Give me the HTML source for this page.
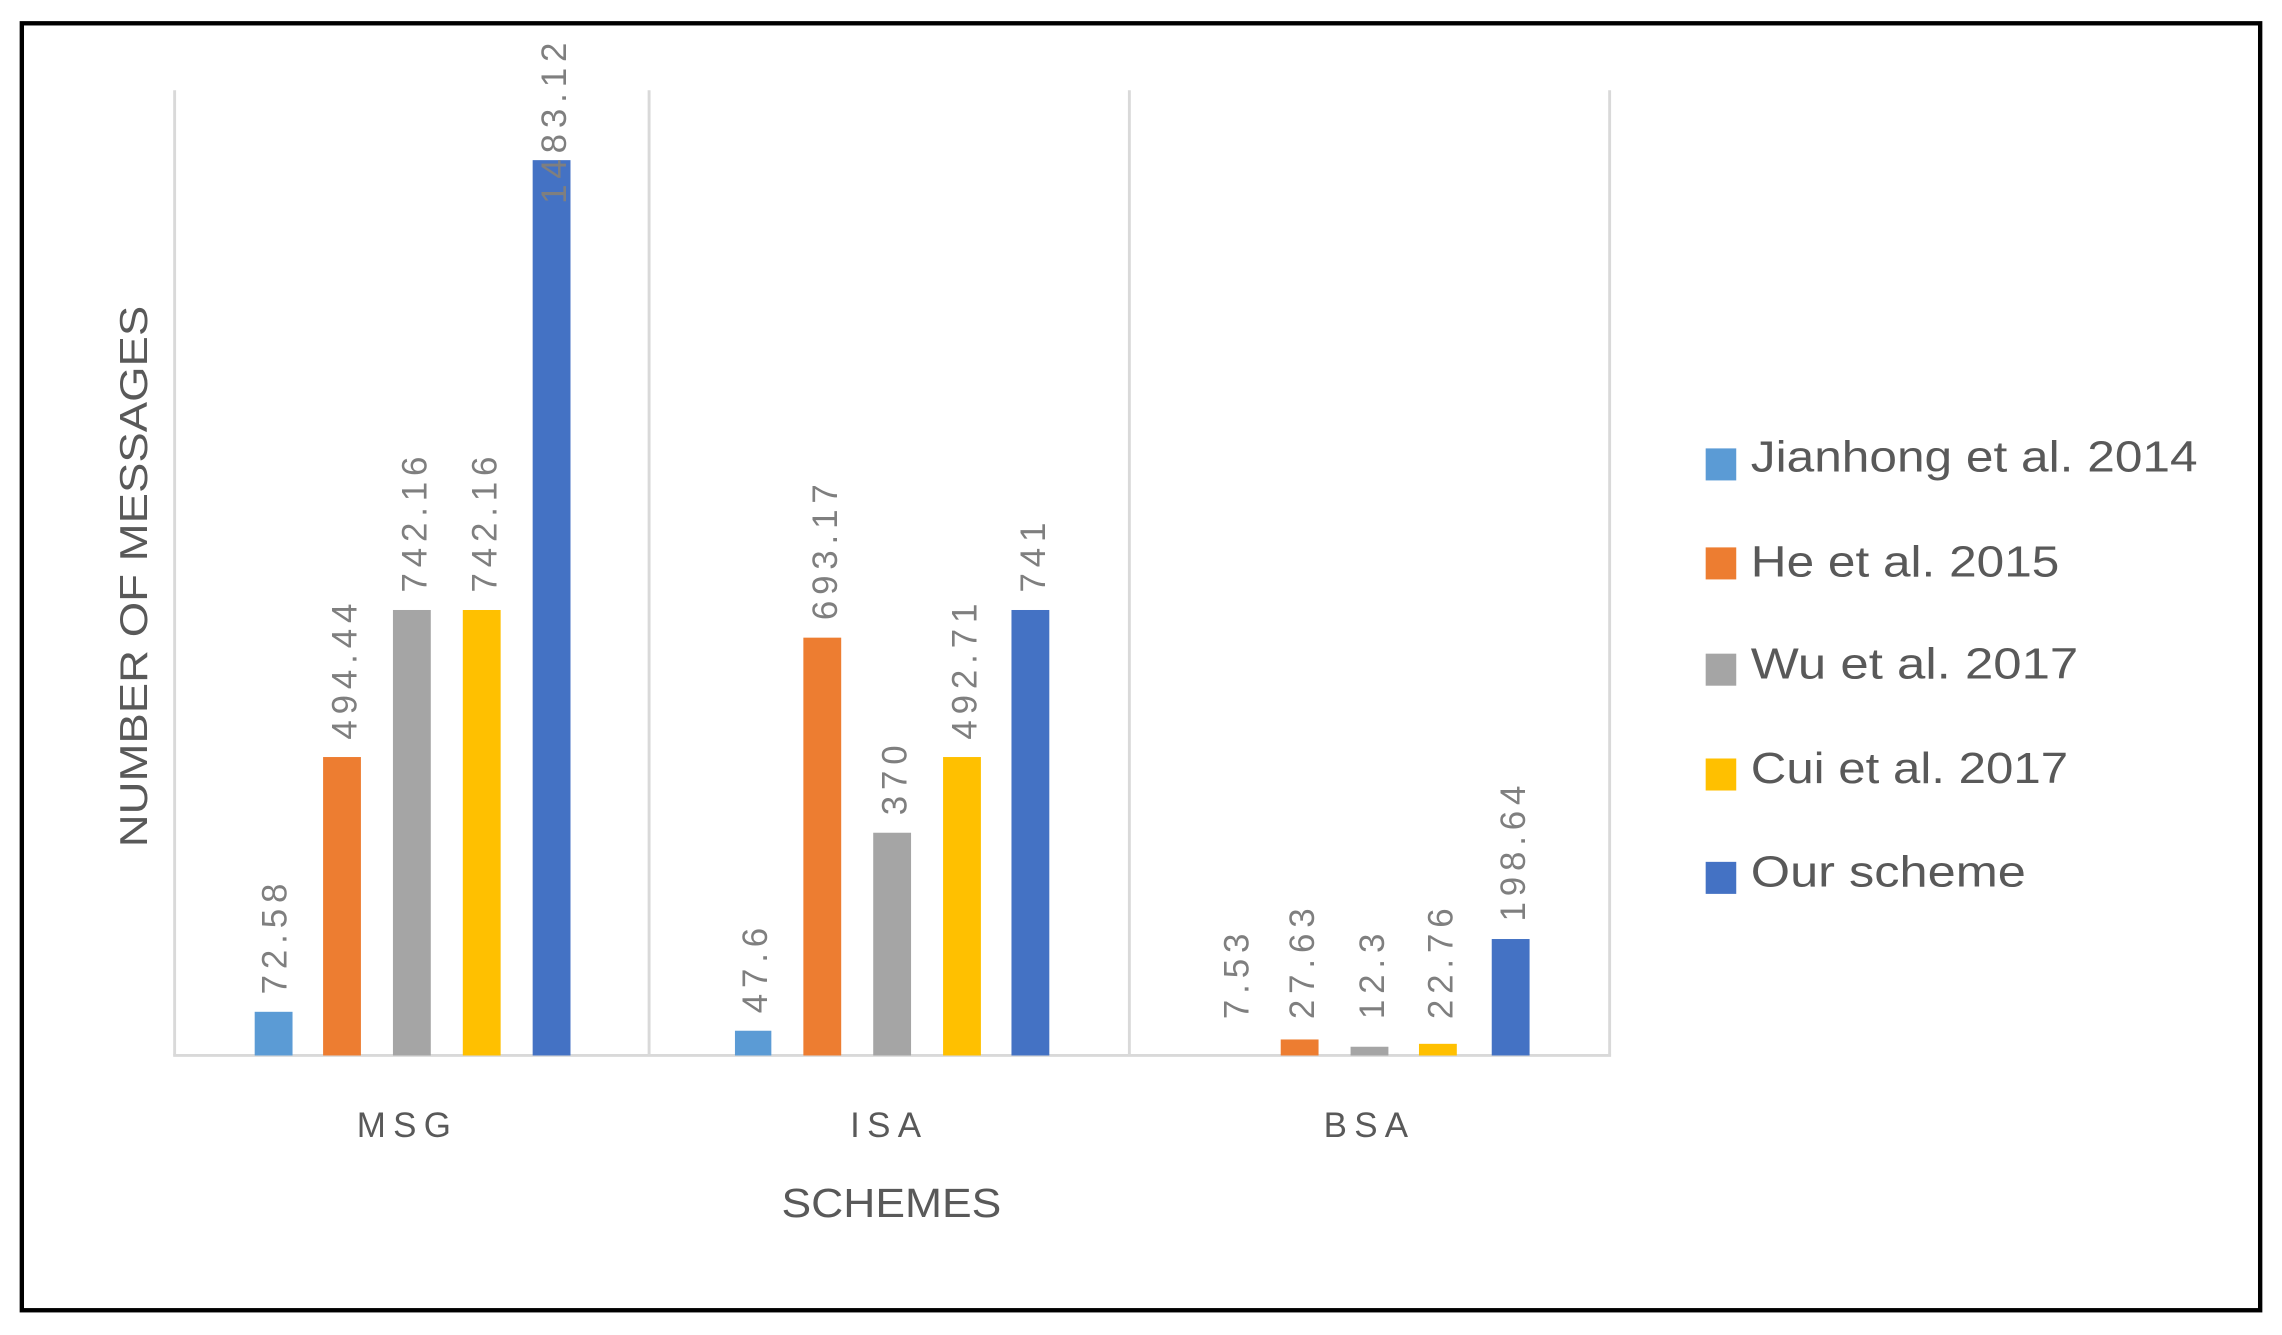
<!DOCTYPE html>
<html><head><style>html,body{margin:0;padding:0;background:#fff}svg{display:block}</style></head>
<body>
<svg width="2282" height="1335" viewBox="0 0 1568 917" preserveAspectRatio="none" xmlns="http://www.w3.org/2000/svg" font-family="Liberation Sans, sans-serif">
<rect x="0" y="0" width="1568" height="917" fill="#fff"/>
<rect x="15" y="16" width="1538" height="884" fill="none" stroke="#000" stroke-width="3"/>
<g stroke="#d9d9d9" stroke-width="2">
<line x1="120" y1="62" x2="120" y2="725"/>
<line x1="446" y1="62" x2="446" y2="725"/>
<line x1="776" y1="62" x2="776" y2="725"/>
<line x1="1106" y1="62" x2="1106" y2="725"/>
<line x1="119" y1="725" x2="1107" y2="725"/>
</g>
<rect x="175" y="695" width="26" height="30" fill="#5b9bd5"/>
<rect x="222" y="520" width="26" height="205" fill="#ed7d31"/>
<rect x="270" y="419" width="26" height="306" fill="#a5a5a5"/>
<rect x="318" y="419" width="26" height="306" fill="#ffc000"/>
<rect x="366" y="110" width="26" height="615" fill="#4472c4"/>
<rect x="505" y="708" width="25" height="17" fill="#5b9bd5"/>
<rect x="552" y="438" width="26" height="287" fill="#ed7d31"/>
<rect x="600" y="572" width="26" height="153" fill="#a5a5a5"/>
<rect x="648" y="520" width="26" height="205" fill="#ffc000"/>
<rect x="695" y="419" width="26" height="306" fill="#4472c4"/>
<rect x="880" y="714" width="26" height="11" fill="#ed7d31"/>
<rect x="928" y="719" width="26" height="6" fill="#a5a5a5"/>
<rect x="975" y="717" width="26" height="8" fill="#ffc000"/>
<rect x="1025" y="645" width="26" height="80" fill="#4472c4"/>
<g fill="#7f7f7f" font-size="24" letter-spacing="4" text-anchor="start">
<text transform="translate(197,683) rotate(-90)">72.58</text>
<text transform="translate(245,508) rotate(-90)">494.44</text>
<text transform="translate(293,407) rotate(-90)">742.16</text>
<text transform="translate(341,407) rotate(-90)">742.16</text>
<text transform="translate(389,140) rotate(-90)">1483.12</text>
<text transform="translate(527,696) rotate(-90)">47.6</text>
<text transform="translate(575,426) rotate(-90)">693.17</text>
<text transform="translate(623,560) rotate(-90)">370</text>
<text transform="translate(671,508) rotate(-90)">492.71</text>
<text transform="translate(718,407) rotate(-90)">741</text>
<text transform="translate(858,700) rotate(-90)">7.53</text>
<text transform="translate(903,700) rotate(-90)">27.63</text>
<text transform="translate(951,700) rotate(-90)">12.3</text>
<text transform="translate(998,700) rotate(-90)">22.76</text>
<text transform="translate(1048,633) rotate(-90)">198.64</text>
</g>
<g fill="#595959" font-size="24" text-anchor="middle" letter-spacing="5">
<text x="280" y="781">MSG</text>
<text x="611" y="781">ISA</text>
<text x="941" y="781">BSA</text>
</g>
<text x="537" y="836" fill="#595959" font-size="28" textLength="151" lengthAdjust="spacingAndGlyphs">SCHEMES</text>
<text transform="translate(101,582) rotate(-90)" fill="#595959" font-size="27" textLength="372" lengthAdjust="spacingAndGlyphs">NUMBER OF MESSAGES</text>
<g font-size="30" fill="#595959">
<rect x="1172" y="308" width="21" height="22" fill="#5b9bd5"/><text x="1203" y="324" textLength="307" lengthAdjust="spacingAndGlyphs">Jianhong et al. 2014</text>
<rect x="1172" y="376" width="21" height="22" fill="#ed7d31"/><text x="1203" y="396" textLength="212" lengthAdjust="spacingAndGlyphs">He et al. 2015</text>
<rect x="1172" y="449" width="21" height="22" fill="#a5a5a5"/><text x="1203" y="466" textLength="225" lengthAdjust="spacingAndGlyphs">Wu et al. 2017</text>
<rect x="1172" y="521" width="21" height="22" fill="#ffc000"/><text x="1203" y="538" textLength="218" lengthAdjust="spacingAndGlyphs">Cui et al. 2017</text>
<rect x="1172" y="592" width="21" height="22" fill="#4472c4"/><text x="1203" y="609" textLength="189" lengthAdjust="spacingAndGlyphs">Our scheme</text>
</g>
</svg>
</body></html>
